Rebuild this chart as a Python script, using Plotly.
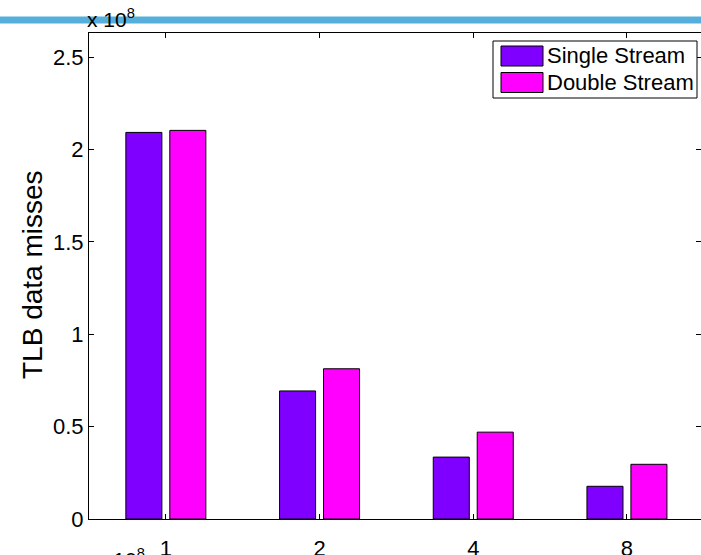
import plotly.graph_objects as go

# TLB data misses per thread count (values in units of 1e8)
threads = ["1", "2", "4", "8"]
single_stream = [2.092, 0.693, 0.335, 0.177]
double_stream = [2.103, 0.813, 0.470, 0.296]
series_names = ["Single Stream", "Double Stream"]
series_colors = ["#8000ff", "#ff00ff"]
y_ticks = [0, 0.5, 1, 1.5, 2, 2.5]
y_tick_text = ["0", "0.5", "1", "1.5", "2", "2.5"]

FONT = "Liberation Sans, Arial, Helvetica, sans-serif"
WIDTH, HEIGHT = 701, 555
L, R, T, B = 89, 701, 33, 519
PW, PH = R - L, B - T


def fx(px):
    return (px - L) / PW


def fy(py):
    return (B - py) / PH


fig = go.Figure()
for name, vals, col in zip(series_names, [single_stream, double_stream], series_colors):
    fig.add_trace(go.Bar(
        x=threads, y=vals, name=name,
        marker=dict(color=col, line=dict(color="black", width=1)),
        showlegend=False,
    ))

# invisible trace carrying the right-hand tick marks
fig.add_trace(go.Scatter(x=[threads[0]], y=[0], yaxis="y2", mode="markers",
                         marker=dict(opacity=0), showlegend=False, hoverinfo="skip"))

shapes = []
annotations = []

# blue rule across the top of the page
shapes.append(dict(type="line", xref="paper", yref="paper",
                   x0=fx(0), x1=fx(WIDTH), y0=fy(20), y1=fy(20),
                   line=dict(color="#55afda", width=7), layer="above"))

# legend box
shapes.append(dict(type="rect", xref="paper", yref="paper",
                   x0=fx(493), x1=fx(697), y0=fy(98), y1=fy(41),
                   line=dict(color="black", width=1), fillcolor="white", layer="above"))
for i, (name, col) in enumerate(zip(series_names, series_colors)):
    top = 46 + i * 26.5
    shapes.append(dict(type="rect", xref="paper", yref="paper",
                       x0=fx(501), x1=fx(543), y0=fy(top + 20), y1=fy(top),
                       line=dict(color="black", width=1), fillcolor=col, layer="above"))
    annotations.append(dict(text=name, xref="paper", yref="paper",
                            x=fx(545), y=fy(top + 10), xanchor="left", yanchor="middle",
                            showarrow=False, font=dict(family=FONT, size=22, color="black")))

# exponent label of the y axis
annotations.append(dict(text="x 10<sup>8</sup>", xref="paper", yref="paper",
                        x=fx(85), y=fy(33), xanchor="left", yanchor="bottom",
                        showarrow=False, font=dict(family=FONT, size=21, color="black")))
# exponent label of the next panel, below the page edge
annotations.append(dict(text="x 10<sup>8</sup>", xref="paper", yref="paper",
                        x=fx(95), y=fy(542.5), xanchor="left", yanchor="top",
                        showarrow=False, font=dict(family=FONT, size=21, color="black")))

# y axis title
annotations.append(dict(text="TLB data misses", xref="paper", yref="paper",
                        x=fx(32), y=fy(275), xanchor="center", yanchor="middle",
                        textangle=-90, showarrow=False,
                        font=dict(family=FONT, size=28, color="black")))

fig.update_layout(
    width=WIDTH, height=HEIGHT,
    margin=dict(l=L, r=WIDTH - R, t=T, b=HEIGHT - B, pad=0),
    paper_bgcolor="white", plot_bgcolor="white",
    barmode="group", bargap=0.428, bargroupgap=0.18,
    font=dict(family=FONT, size=22, color="black"),
    shapes=shapes, annotations=annotations,
    xaxis=dict(type="category", categoryorder="array", categoryarray=threads,
               range=[-0.5, -0.5 + PW / 153.7], automargin=False,
               showline=True, linecolor="black", linewidth=1, mirror="ticks",
               ticks="inside", ticklen=5, tickcolor="black",
               showgrid=False, zeroline=False,
               tickfont=dict(family=FONT, size=22, color="black"),
               ticklabelstandoff=10),
    yaxis=dict(range=[0, 2.63], tickvals=y_ticks, ticktext=y_tick_text,
               automargin=False,
               showline=True, linecolor="black", linewidth=1,
               ticks="inside", ticklen=5, tickcolor="black",
               showgrid=False, zeroline=False,
               tickfont=dict(family=FONT, size=22, color="black")),
    yaxis2=dict(range=[0, 2.63], tickvals=y_ticks, overlaying="y", side="right",
                anchor="x", showline=False, ticks="inside", ticklen=5, automargin=False,
                tickcolor="black", showticklabels=False, showgrid=False, zeroline=False),
)

fig.write_html("out.html")
